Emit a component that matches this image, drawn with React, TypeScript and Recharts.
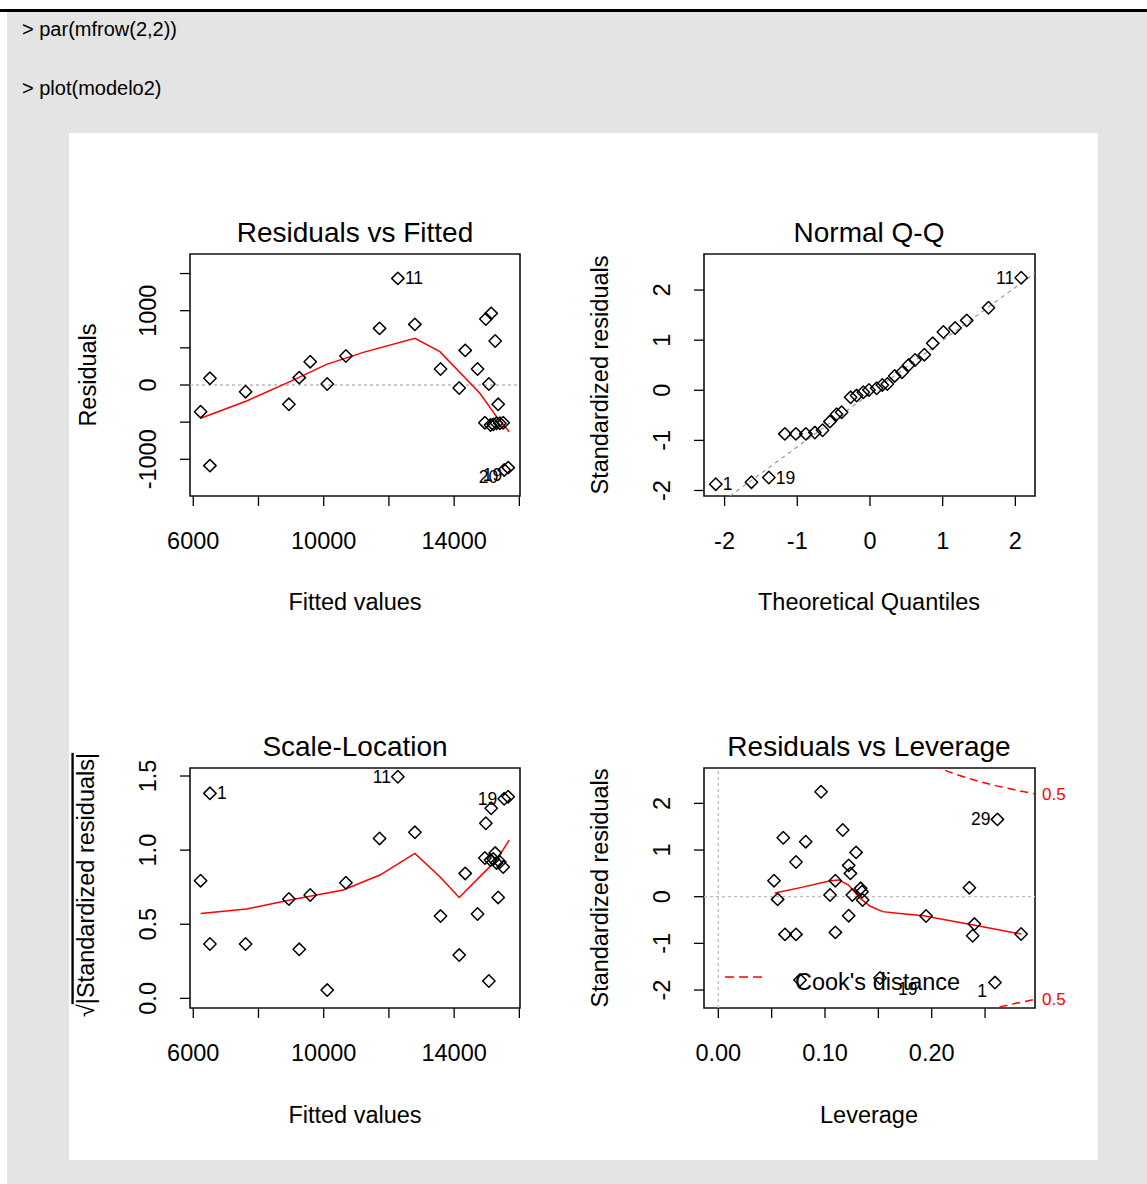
import React from 'react';
import { ComposedChart, Scatter, Line, XAxis, YAxis, ReferenceLine, ReferenceArea, ReferenceDot } from 'recharts';

const FONT = '"Liberation Sans", Arial, Helvetica, sans-serif';

// Residuals vs Fitted / Scale-Location (same fitted values)
const fitted = [6225, 6511, 6511, 7605, 8933, 9250, 9587, 10108, 10681, 11713, 12275, 12796, 13583, 14156, 14340, 14718, 15065, 14973, 15137, 15259, 15351, 14943, 15116, 15300, 15402, 15505, 15535, 15658, 15200];
const residuals = [-359, 90, -1085, -90, -260, 99, 314, 13, 390, 762, 1435, 816, 215, -40, 466, 215, 13, 888, 964, 592, -260, -507, -538, -516, -516, -507, -1143, -1112, -530];
const sqrtStdResid = [0.794, 0.367, 1.383, 0.367, 0.67, 0.331, 0.697, 0.056, 0.78, 1.079, 1.495, 1.12, 0.555, 0.292, 0.843, 0.569, 0.117, 1.181, 1.282, 0.98, 0.681, 0.947, 0.933, 0.913, 0.92, 0.886, 1.346, 1.36, 0.94];

const rvfSmoothX = [6225, 7635, 8963, 10087, 11212, 12796, 13563, 14789, 15300, 15688];
const rvfSmoothY = [-448, -215, 45, 278, 439, 628, 449, -112, -426, -628];
const slSmoothX = [6225, 7635, 8963, 10599, 11723, 12796, 13563, 14156, 14891, 15300, 15688];
const slSmoothY = [0.573, 0.603, 0.663, 0.731, 0.832, 0.978, 0.821, 0.681, 0.843, 0.933, 1.068];

// Normal Q-Q
const qqTheoretical = [-2.121, -1.63, -1.391, -1.171, -1.019, -0.882, -0.758, -0.652, -0.551, -0.459, -0.39, -0.266, -0.184, -0.092, -0.014, 0.092, 0.17, 0.239, 0.34, 0.441, 0.533, 0.62, 0.748, 0.863, 1.01, 1.171, 1.331, 1.63, 2.08];
const qqSample = [-1.874, -1.834, -1.741, -0.87, -0.87, -0.87, -0.844, -0.797, -0.625, -0.478, -0.439, -0.14, -0.106, -0.04, 0.007, 0.04, 0.106, 0.126, 0.286, 0.359, 0.505, 0.605, 0.711, 0.937, 1.163, 1.243, 1.395, 1.648, 2.246];
const qqLineX = [-2.283, 2.27];
const qqLineY = [-2.49, 2.34];

// Residuals vs Leverage
const leverage = [0.0963, 0.0609, 0.0819, 0.0728, 0.0522, 0.0556, 0.0625, 0.0728, 0.1047, 0.1097, 0.1097, 0.1166, 0.1222, 0.1238, 0.1291, 0.1222, 0.1256, 0.1334, 0.1347, 0.1353, 0.1947, 0.2353, 0.24, 0.2384, 0.2838, 0.2616, 0.2593, 0.0766, 0.1516];
const levStdResid = [2.25, 1.264, 1.179, 0.743, 0.343, -0.057, -0.807, -0.807, 0.036, 0.343, -0.764, 1.429, 0.671, 0.5, 0.95, -0.407, 0.036, 0.179, 0.107, -0.071, -0.414, 0.193, -0.586, -0.836, -0.8, 1.657, -1.84, -1.785, -1.742];
const levSmoothX = [0.053, 0.078, 0.105, 0.113, 0.122, 0.1328, 0.142, 0.154, 0.17, 0.1922, 0.2391, 0.2838];
const levSmoothY = [0.08, 0.2, 0.34, 0.36, 0.25, -0.03, -0.2, -0.32, -0.36, -0.407, -0.607, -0.8];
const cookUpperX = [0.19, 0.21, 0.24, 0.26, 0.28, 0.2968];
const cookUpperY = [2.92, 2.73, 2.5, 2.38, 2.28, 2.2];
const cookLowerX = [0.24, 0.26, 0.28, 0.2968];
const cookLowerY = [-2.5, -2.38, -2.28, -2.2];

// axis ticks
const fittedTicks = [6000, 8000, 10000, 12000, 14000, 16000];
const fittedTickLabels = ['6000', '', '10000', '', '14000', ''];
const residTicks = [-1000, -500, 0, 500, 1000, 1500];
const residTickLabels = ['-1000', '', '0', '', '1000', ''];
const qqTicks = [-2, -1, 0, 1, 2];
const qqTickLabels = ['-2', '-1', '0', '1', '2'];
const slTicks = [0, 0.5, 1, 1.5];
const slTickLabels = ['0.0', '0.5', '1.0', '1.5'];
const levTicks = [0, 0.05, 0.1, 0.15, 0.2, 0.25];
const levTickLabels = ['0.00', '', '0.10', '', '0.20', ''];

// identified points
const rvfIds = [{ x: 12275, y: 1435, text: '11', side: 'right' }, { x: 15535, y: -1143, text: '20', side: 'left-low' }, { x: 15658, y: -1112, text: '19', side: 'left-low' }];
const qqIds = [{ x: -2.121, y: -1.874, text: '1', side: 'right' }, { x: -1.391, y: -1.741, text: '19', side: 'right' }, { x: 2.08, y: 2.246, text: '11', side: 'left' }];
const slIds = [{ x: 6511, y: 1.383, text: '1', side: 'right' }, { x: 12275, y: 1.495, text: '11', side: 'left' }, { x: 15535, y: 1.346, text: '19', side: 'left' }];
const levIds = [{ x: 0.2616, y: 1.657, text: '29', side: 'left' }, { x: 0.2593, y: -1.84, text: '1', side: 'below' }, { x: 0.1516, y: -1.742, text: '19', side: 'below-right' }];
const cookLabels = [{ x: 0.2968, y: 2.2, text: '0.5' }, { x: 0.2968, y: -2.2, text: '0.5' }];

const zip = (xs: number[], ys: number[]) => xs.map((x, i) => ({ x, y: ys[i] }));

type Box = { left: number; top: number; right: number; bottom: number };

function XTick(p: any) {
  const i = p.tickVals.indexOf(p.payload.value);
  const t = p.tickText[i];
  if (!t) return <g />;
  return (
    <text x={p.x} y={p.y + 41} textAnchor="middle" fontSize={23.5} fontFamily={FONT} fill="#000">
      {t}
    </text>
  );
}

function YTick(p: any) {
  const i = p.tickVals.indexOf(p.payload.value);
  const t = p.tickText[i];
  if (!t) return <g />;
  const bx = p.x - 21.6;
  return (
    <text x={bx} y={p.y} transform={`rotate(-90 ${bx} ${p.y})`} textAnchor="middle" fontSize={23.5} fontFamily={FONT} fill="#000">
      {t}
    </text>
  );
}

const Diamond = (p: any) => {
  const { cx, cy } = p;
  const r = 6.2;
  return <path d={`M${cx},${cy - r}L${cx + r},${cy}L${cx},${cy + r}L${cx - r},${cy}Z`} fill="none" stroke="#000" strokeWidth={1.5} strokeLinejoin="round" />;
};

function idShape(text: string, side: string, color = '#000', size = 17.5) {
  return (p: any) => {
    let x = p.cx + 7;
    let y = p.cy + 6;
    let anchor: 'start' | 'end' | 'middle' = 'start';
    if (side === 'left') { x = p.cx - 7; anchor = 'end'; }
    if (side === 'left-low') { x = p.cx - 6; y = p.cy + 13; anchor = 'end'; }
    if (side === 'below') { x = p.cx - 8; y = p.cy + 14; anchor = 'end'; }
    if (side === 'below-right') { x = p.cx + 18; y = p.cy + 17; anchor = 'start'; }
    return (
      <text x={x} y={y} textAnchor={anchor} fontSize={size} fontFamily={FONT} fill={color}>
        {text}
      </text>
    );
  };
}

type PanelProps = {
  box: Box;
  xDomain: [number, number];
  yDomain: [number, number];
  xTicks: number[];
  xLabels: string[];
  yTicks: number[];
  yLabels: string[];
  children: React.ReactNode;
};

function Panel({ box, xDomain, yDomain, xTicks, xLabels, yTicks, yLabels, children }: PanelProps) {
  const padL = 130, padT = 40, padR = 70, padB = 70;
  const w = box.right - box.left + padL + padR;
  const h = box.bottom - box.top + padT + padB;
  return (
    <div style={{ position: 'absolute', left: box.left - padL, top: box.top - padT }}>
      <ComposedChart width={w} height={h} margin={{ top: padT, right: padR, bottom: 0, left: 0 }}>
        <XAxis
          type="number"
          dataKey="x"
          domain={xDomain}
          ticks={xTicks}
          allowDataOverflow
          interval={0}
          height={padB}
          axisLine={false}
          tickSize={10}
          tickLine={{ stroke: '#000', strokeWidth: 1.3 }}
          tick={(p: any) => <XTick {...p} tickVals={xTicks} tickText={xLabels} />}
        />
        <YAxis
          type="number"
          dataKey="y"
          domain={yDomain}
          ticks={yTicks}
          allowDataOverflow
          interval={0}
          width={padL}
          axisLine={false}
          tickSize={10}
          tickLine={{ stroke: '#000', strokeWidth: 1.3 }}
          tick={(p: any) => <YTick {...p} tickVals={yTicks} tickText={yLabels} />}
        />
        {children}
        <ReferenceArea x1={xDomain[0]} x2={xDomain[1]} y1={yDomain[0]} y2={yDomain[1]} fill="none" fillOpacity={0} stroke="#111" strokeWidth={1.6} ifOverflow="visible" />
      </ComposedChart>
    </div>
  );
}

const fittedDomain: [number, number] = [5900, 16020];

export default function App() {
  return (
    <div style={{ position: 'absolute', left: 0, top: 0, width: 1147, height: 1184, background: '#fff', overflow: 'hidden' }}>
      <div style={{ position: 'absolute', left: 0, top: 9, width: 1147, height: 3, background: '#000' }} />
      <div style={{ position: 'absolute', left: 7, top: 12, width: 1140, height: 1172, background: '#e4e4e4' }} />
      <div style={{ position: 'absolute', left: 22, top: 18, fontFamily: FONT, fontSize: 20, color: '#000' }}>&gt; par(mfrow(2,2))</div>
      <div style={{ position: 'absolute', left: 22, top: 77, fontFamily: FONT, fontSize: 20, color: '#000' }}>&gt; plot(modelo2)</div>
      <div style={{ position: 'absolute', left: 69, top: 133, width: 1029, height: 1027, background: '#fff' }} />

      <Panel box={{ left: 190, top: 254, right: 520, bottom: 496 }} xDomain={fittedDomain} yDomain={[-1494, 1763]} xTicks={fittedTicks} xLabels={fittedTickLabels} yTicks={residTicks} yLabels={residTickLabels}>
        <ReferenceLine y={0} stroke="#bbb" strokeWidth={1.3} strokeDasharray="3 3" />
        <Scatter data={zip(fitted, residuals)} shape={Diamond} isAnimationActive={false} />
        <Line data={zip(rvfSmoothX, rvfSmoothY)} dataKey="y" type="linear" stroke="#ff0000" strokeWidth={1.5} dot={false} isAnimationActive={false} />
        {rvfIds.map((l, i) => (
          <ReferenceDot key={i} x={l.x} y={l.y} ifOverflow="visible" shape={idShape(l.text, l.side)} />
        ))}
      </Panel>

      <Panel box={{ left: 704, top: 254, right: 1035, bottom: 496 }} xDomain={[-2.283, 2.27]} yDomain={[-2.11, 2.72]} xTicks={qqTicks} xLabels={qqTickLabels} yTicks={qqTicks} yLabels={qqTickLabels}>
        <Line data={zip(qqLineX, qqLineY)} dataKey="y" type="linear" stroke="#999" strokeWidth={1.2} strokeDasharray="4 4" dot={false} isAnimationActive={false} />
        <Scatter data={zip(qqTheoretical, qqSample)} shape={Diamond} isAnimationActive={false} />
        {qqIds.map((l, i) => (
          <ReferenceDot key={i} x={l.x} y={l.y} ifOverflow="visible" shape={idShape(l.text, l.side)} />
        ))}
      </Panel>

      <Panel box={{ left: 190, top: 768, right: 520, bottom: 1008 }} xDomain={fittedDomain} yDomain={[-0.065, 1.554]} xTicks={fittedTicks} xLabels={fittedTickLabels} yTicks={slTicks} yLabels={slTickLabels}>
        <Scatter data={zip(fitted, sqrtStdResid)} shape={Diamond} isAnimationActive={false} />
        <Line data={zip(slSmoothX, slSmoothY)} dataKey="y" type="linear" stroke="#ff0000" strokeWidth={1.5} dot={false} isAnimationActive={false} />
        {slIds.map((l, i) => (
          <ReferenceDot key={i} x={l.x} y={l.y} ifOverflow="visible" shape={idShape(l.text, l.side)} />
        ))}
      </Panel>

      <Panel box={{ left: 704, top: 768, right: 1035, bottom: 1008 }} xDomain={[-0.0134, 0.2968]} yDomain={[-2.385, 2.758]} xTicks={levTicks} xLabels={levTickLabels} yTicks={qqTicks} yLabels={qqTickLabels}>
        <ReferenceLine y={0} stroke="#bbb" strokeWidth={1.3} strokeDasharray="3 3" />
        <ReferenceLine x={0} stroke="#bbb" strokeWidth={1.3} strokeDasharray="3 3" />
        <Scatter data={zip(leverage, levStdResid)} shape={Diamond} isAnimationActive={false} />
        <Line data={zip(levSmoothX, levSmoothY)} dataKey="y" type="linear" stroke="#ff0000" strokeWidth={1.5} dot={false} isAnimationActive={false} />
        <Line data={zip(cookUpperX, cookUpperY)} dataKey="y" type="monotone" stroke="#ff0000" strokeWidth={1.5} strokeDasharray="8 5" dot={false} isAnimationActive={false} />
        <Line data={zip(cookLowerX, cookLowerY)} dataKey="y" type="monotone" stroke="#ff0000" strokeWidth={1.5} strokeDasharray="8 5" dot={false} isAnimationActive={false} />
        {levIds.map((l, i) => (
          <ReferenceDot key={i} x={l.x} y={l.y} ifOverflow="visible" shape={idShape(l.text, l.side)} />
        ))}
        {cookLabels.map((l, i) => (
          <ReferenceDot key={'c' + i} x={l.x} y={l.y} ifOverflow="visible" shape={idShape(l.text, 'right', '#ff0000', 17)} />
        ))}
      </Panel>

      <svg width={1147} height={1184} style={{ position: 'absolute', left: 0, top: 0, pointerEvents: 'none' }} fontFamily={FONT} fill="#000">
        <g fontSize={28} textAnchor="middle">
          <text x={355} y={242}>Residuals vs Fitted</text>
          <text x={869} y={242}>Normal Q-Q</text>
          <text x={355} y={756}>Scale-Location</text>
          <text x={869} y={756}>Residuals vs Leverage</text>
        </g>
        <g fontSize={23.5} textAnchor="middle">
          <text x={355} y={609.5}>Fitted values</text>
          <text x={869} y={609.5}>Theoretical Quantiles</text>
          <text x={355} y={1123}>Fitted values</text>
          <text x={869} y={1123}>Leverage</text>
          <text x={96.4} y={375} transform="rotate(-90 96.4 375)">Residuals</text>
          <text x={608.4} y={375} transform="rotate(-90 608.4 375)">Standardized residuals</text>
          <text x={94.4} y={885} transform="rotate(-90 94.4 885)">
            √<tspan style={{ textDecoration: 'overline' }}>|Standardized residuals|</tspan>
          </text>
          <text x={608.4} y={888} transform="rotate(-90 608.4 888)">Standardized residuals</text>
        </g>
        <line x1={725} y1={977} x2={766} y2={977} stroke="#ff0000" strokeWidth={1.5} strokeDasharray="9 5" />
        <text x={795} y={990} fontSize={23.5}>Cook's distance</text>
      </svg>
    </div>
  );
}
